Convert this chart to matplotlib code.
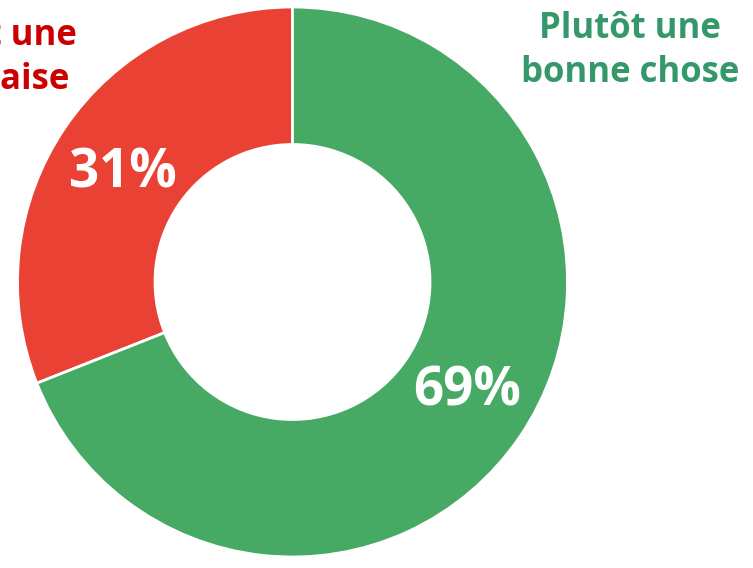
import matplotlib
matplotlib.use("Agg")
import matplotlib.pyplot as plt

# opinion shares (percent)
labels = ["Plutôt une\nmauvaise", "Plutôt une\nbonne chose"]
shares = [31, 69]
colors = ["#E94235", "#47AA64"]
text_colors = ["#CC0000", "#35986A"]

W, H = 753, 568
fig = plt.figure(figsize=(W / 100, H / 100), dpi=100)
ax = fig.add_axes([0, 0, 1, 1])
ax.axis("off")

cx, cy, r = 292.5, H - 282, 275
ax.pie(shares, colors=colors, startangle=90, counterclock=True,
       center=(cx, cy), radius=r,
       wedgeprops=dict(width=r * 0.5, edgecolor="white", linewidth=2))
ax.set_xlim(0, W)
ax.set_ylim(0, H)
ax.set_aspect("equal")

font = "Open Sans"
ax.text(123, H - 173, f"{shares[0]}%", color="white", fontsize=38,
        fontweight="bold", family=font, ha="center", va="center")
ax.text(467, H - 392, f"{shares[1]}%", color="white", fontsize=38,
        fontweight="bold", family=font, ha="center", va="center")

ax.text(-14, H - 58, labels[0], color=text_colors[0], fontsize=25,
        fontweight="bold", family=font, ha="center", va="center", linespacing=1.3)
ax.text(630, H - 51, labels[1], color=text_colors[1], fontsize=25,
        fontweight="bold", family=font, ha="center", va="center", linespacing=1.3)

fig.savefig("out.png", dpi=100)
